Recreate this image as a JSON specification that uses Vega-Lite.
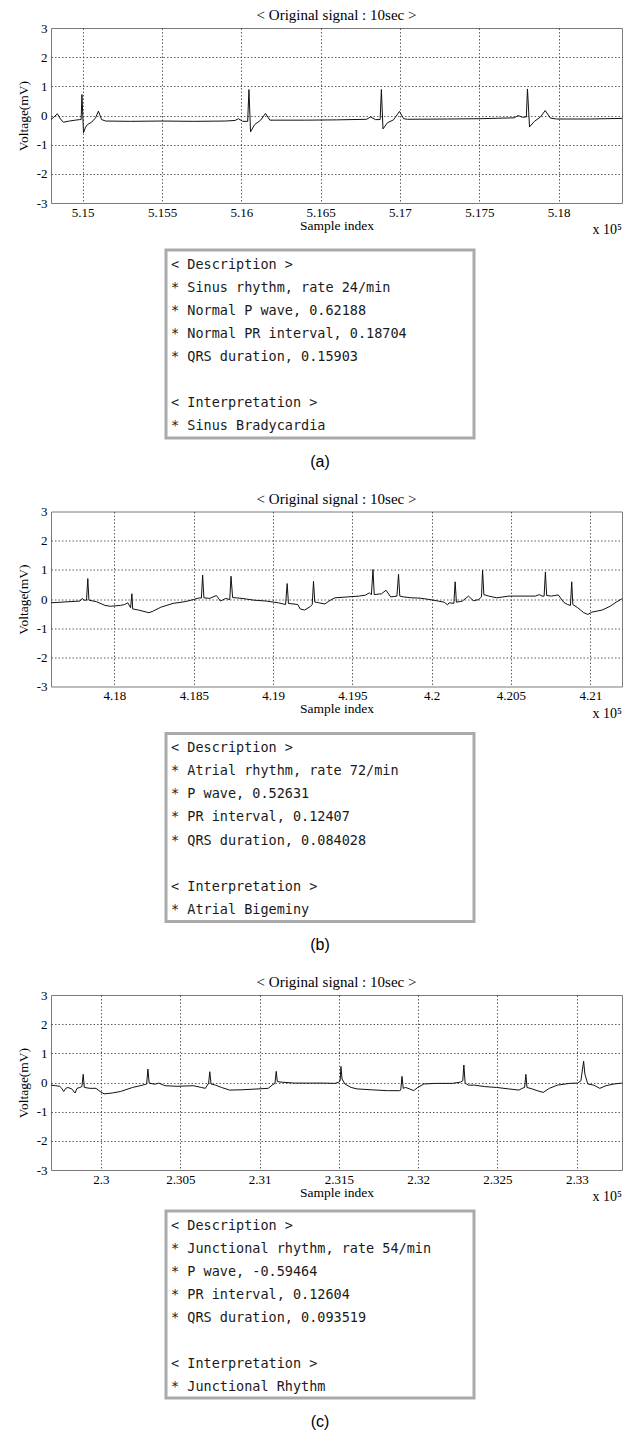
{
  "$schema": "https://vega.github.io/schema/vega-lite/v6.json",
  "background": "white",
  "padding": {"left": 15, "top": 7, "right": 4, "bottom": 3},
  "config": {
    "title": {"font": "Liberation Serif", "fontSize": 15, "fontWeight": "normal", "color": "#000", "offset": -1},
    "axis": {"labelFont": "Liberation Serif", "labelFontSize": 13, "labelColor": "#000", "titleFont": "Liberation Serif", "titleFontSize": 13.5, "titleFontWeight": "normal", "titleColor": "#000", "domain": false, "ticks": false, "gridColor": "#333", "gridDash": [1.5, 2], "gridWidth": 0.8, "gridOpacity": 1, "labelFlush": false, "labelOverlap": false, "tickCount": 20},
    "axisX": {"labelPadding": 3, "titlePadding": -1},
    "axisY": {"labelPadding": 4, "titlePadding": 6}
  },
  "datasets": {
    "ecgA": [
      {"sample": 514800, "mV": -0.14}, {"sample": 514825, "mV": -0.02}, {"sample": 514840, "mV": 0.06}, {"sample": 514860, "mV": -0.12}, {"sample": 514878, "mV": -0.23},
      {"sample": 514916, "mV": -0.19}, {"sample": 514954, "mV": -0.16}, {"sample": 514980, "mV": -0.14}, {"sample": 514990, "mV": -0.14},
      {"sample": 514995, "mV": 0.72}, {"sample": 515005, "mV": -0.59}, {"sample": 515018, "mV": -0.4}, {"sample": 515030, "mV": -0.31},
      {"sample": 515056, "mV": -0.23}, {"sample": 515081, "mV": -0.08}, {"sample": 515099, "mV": 0.15}, {"sample": 515119, "mV": -0.14},
      {"sample": 515145, "mV": -0.19}, {"sample": 515300, "mV": -0.2}, {"sample": 515500, "mV": -0.19}, {"sample": 515700, "mV": -0.2},
      {"sample": 515900, "mV": -0.19}, {"sample": 515960, "mV": -0.17}, {"sample": 515982, "mV": -0.11}, {"sample": 516008, "mV": -0.2},
      {"sample": 516040, "mV": -0.2}, {"sample": 516048, "mV": 0.89}, {"sample": 516058, "mV": -0.56}, {"sample": 516084, "mV": -0.31},
      {"sample": 516122, "mV": -0.16}, {"sample": 516152, "mV": 0.07}, {"sample": 516180, "mV": -0.16}, {"sample": 516400, "mV": -0.16},
      {"sample": 516600, "mV": -0.15}, {"sample": 516790, "mV": -0.13}, {"sample": 516815, "mV": -0.05}, {"sample": 516845, "mV": -0.14},
      {"sample": 516875, "mV": -0.14}, {"sample": 516883, "mV": 0.89}, {"sample": 516893, "mV": -0.46}, {"sample": 516921, "mV": -0.25},
      {"sample": 516959, "mV": -0.15}, {"sample": 516997, "mV": 0.14}, {"sample": 517023, "mV": -0.11}, {"sample": 517048, "mV": -0.13},
      {"sample": 517300, "mV": -0.12}, {"sample": 517500, "mV": -0.11}, {"sample": 517720, "mV": -0.08}, {"sample": 517746, "mV": 0.0},
      {"sample": 517771, "mV": -0.06}, {"sample": 517797, "mV": -0.05}, {"sample": 517804, "mV": 0.91}, {"sample": 517817, "mV": -0.39},
      {"sample": 517848, "mV": -0.2}, {"sample": 517886, "mV": -0.05}, {"sample": 517916, "mV": 0.17}, {"sample": 517949, "mV": -0.09},
      {"sample": 517987, "mV": -0.12}, {"sample": 518200, "mV": -0.12}, {"sample": 518400, "mV": -0.1}
    ],
    "ecgB": [
      {"sample": 417600, "mV": -0.13}, {"sample": 417783, "mV": -0.07}, {"sample": 417796, "mV": 0.02}, {"sample": 417809, "mV": -0.04},
      {"sample": 417824, "mV": -0.04}, {"sample": 417832, "mV": 0.7}, {"sample": 417839, "mV": -0.04}, {"sample": 417885, "mV": -0.09},
      {"sample": 417941, "mV": -0.22}, {"sample": 417974, "mV": -0.25}, {"sample": 418038, "mV": -0.22}, {"sample": 418064, "mV": -0.19},
      {"sample": 418084, "mV": -0.13}, {"sample": 418102, "mV": -0.3}, {"sample": 418110, "mV": 0.18}, {"sample": 418115, "mV": -0.34},
      {"sample": 418153, "mV": -0.38}, {"sample": 418217, "mV": -0.47}, {"sample": 418242, "mV": -0.42}, {"sample": 418293, "mV": -0.28},
      {"sample": 418370, "mV": -0.15}, {"sample": 418446, "mV": -0.09}, {"sample": 418497, "mV": -0.02}, {"sample": 418536, "mV": 0.04},
      {"sample": 418548, "mV": 0.03}, {"sample": 418556, "mV": 0.82}, {"sample": 418564, "mV": 0.04}, {"sample": 418600, "mV": 0.02},
      {"sample": 418643, "mV": 0.12}, {"sample": 418668, "mV": -0.07}, {"sample": 418702, "mV": 0.02}, {"sample": 418727, "mV": -0.02},
      {"sample": 418735, "mV": 0.78}, {"sample": 418745, "mV": 0.05}, {"sample": 418804, "mV": 0.02}, {"sample": 418880, "mV": -0.04},
      {"sample": 418957, "mV": -0.07}, {"sample": 419033, "mV": -0.13}, {"sample": 419079, "mV": -0.19}, {"sample": 419089, "mV": 0.53},
      {"sample": 419097, "mV": -0.15}, {"sample": 419156, "mV": -0.19}, {"sample": 419171, "mV": -0.34}, {"sample": 419199, "mV": -0.38},
      {"sample": 419237, "mV": -0.25}, {"sample": 419247, "mV": -0.19}, {"sample": 419255, "mV": 0.61}, {"sample": 419263, "mV": -0.1},
      {"sample": 419288, "mV": -0.13}, {"sample": 419327, "mV": -0.17}, {"sample": 419352, "mV": -0.07}, {"sample": 419390, "mV": 0.04},
      {"sample": 419467, "mV": 0.07}, {"sample": 419543, "mV": 0.1}, {"sample": 419582, "mV": 0.13}, {"sample": 419607, "mV": 0.21},
      {"sample": 419620, "mV": 0.15}, {"sample": 419630, "mV": 1.01}, {"sample": 419638, "mV": 0.15}, {"sample": 419684, "mV": 0.18},
      {"sample": 419712, "mV": 0.3}, {"sample": 419742, "mV": 0.07}, {"sample": 419781, "mV": 0.1}, {"sample": 419791, "mV": 0.85},
      {"sample": 419799, "mV": 0.1}, {"sample": 419824, "mV": 0.07}, {"sample": 419875, "mV": 0.04}, {"sample": 419926, "mV": 0.03},
      {"sample": 419990, "mV": -0.02}, {"sample": 420041, "mV": -0.07}, {"sample": 420079, "mV": -0.11}, {"sample": 420100, "mV": -0.2},
      {"sample": 420110, "mV": -0.13}, {"sample": 420140, "mV": -0.15}, {"sample": 420148, "mV": 0.59}, {"sample": 420156, "mV": -0.11},
      {"sample": 420194, "mV": -0.07}, {"sample": 420232, "mV": 0.1}, {"sample": 420263, "mV": -0.06}, {"sample": 420296, "mV": -0.02},
      {"sample": 420314, "mV": 0.07}, {"sample": 420321, "mV": 0.99}, {"sample": 420329, "mV": 0.15}, {"sample": 420360, "mV": 0.1},
      {"sample": 420411, "mV": 0.04}, {"sample": 420487, "mV": 0.1}, {"sample": 420589, "mV": 0.1}, {"sample": 420653, "mV": 0.1},
      {"sample": 420679, "mV": 0.15}, {"sample": 420696, "mV": 0.1}, {"sample": 420709, "mV": 0.1}, {"sample": 420717, "mV": 0.93},
      {"sample": 420725, "mV": 0.12}, {"sample": 420755, "mV": 0.1}, {"sample": 420798, "mV": 0.14}, {"sample": 420832, "mV": -0.11},
      {"sample": 420857, "mV": -0.19}, {"sample": 420875, "mV": -0.22}, {"sample": 420883, "mV": 0.59}, {"sample": 420890, "mV": -0.19},
      {"sample": 420921, "mV": -0.3}, {"sample": 420959, "mV": -0.47}, {"sample": 420985, "mV": -0.53}, {"sample": 421010, "mV": -0.45},
      {"sample": 421074, "mV": -0.38}, {"sample": 421125, "mV": -0.25}, {"sample": 421163, "mV": -0.11}, {"sample": 421200, "mV": 0.01}
    ],
    "ecgC": [
      {"sample": 229685, "mV": -0.09}, {"sample": 229714, "mV": -0.11}, {"sample": 229740, "mV": -0.13}, {"sample": 229753, "mV": -0.2},
      {"sample": 229765, "mV": -0.31}, {"sample": 229778, "mV": -0.2}, {"sample": 229791, "mV": -0.17}, {"sample": 229816, "mV": -0.22},
      {"sample": 229837, "mV": -0.36}, {"sample": 229849, "mV": -0.2}, {"sample": 229867, "mV": -0.17}, {"sample": 229880, "mV": -0.14},
      {"sample": 229888, "mV": 0.28}, {"sample": 229895, "mV": -0.17}, {"sample": 229931, "mV": -0.2}, {"sample": 229969, "mV": -0.2},
      {"sample": 229995, "mV": -0.31}, {"sample": 230020, "mV": -0.39}, {"sample": 230071, "mV": -0.36}, {"sample": 230122, "mV": -0.31},
      {"sample": 230199, "mV": -0.17}, {"sample": 230263, "mV": -0.09}, {"sample": 230288, "mV": -0.05}, {"sample": 230296, "mV": 0.46},
      {"sample": 230304, "mV": -0.02}, {"sample": 230339, "mV": -0.06}, {"sample": 230365, "mV": -0.02}, {"sample": 230403, "mV": -0.11},
      {"sample": 230480, "mV": -0.13}, {"sample": 230582, "mV": -0.11}, {"sample": 230633, "mV": -0.17}, {"sample": 230658, "mV": -0.2},
      {"sample": 230679, "mV": -0.02}, {"sample": 230686, "mV": 0.37}, {"sample": 230694, "mV": -0.05}, {"sample": 230722, "mV": -0.09},
      {"sample": 230760, "mV": -0.17}, {"sample": 230811, "mV": -0.26}, {"sample": 230888, "mV": -0.25}, {"sample": 230990, "mV": -0.22},
      {"sample": 231054, "mV": -0.2}, {"sample": 231079, "mV": -0.09}, {"sample": 231097, "mV": -0.03}, {"sample": 231105, "mV": 0.38},
      {"sample": 231112, "mV": 0.03}, {"sample": 231143, "mV": 0.01}, {"sample": 231219, "mV": -0.02}, {"sample": 231321, "mV": -0.02},
      {"sample": 231398, "mV": -0.02}, {"sample": 231475, "mV": -0.03}, {"sample": 231500, "mV": 0.01}, {"sample": 231508, "mV": 0.06},
      {"sample": 231513, "mV": 0.55}, {"sample": 231520, "mV": 0.12}, {"sample": 231538, "mV": -0.05}, {"sample": 231577, "mV": -0.17},
      {"sample": 231615, "mV": -0.22}, {"sample": 231704, "mV": -0.25}, {"sample": 231806, "mV": -0.28}, {"sample": 231883, "mV": -0.28},
      {"sample": 231890, "mV": -0.26}, {"sample": 231898, "mV": 0.21}, {"sample": 231906, "mV": -0.2}, {"sample": 231921, "mV": -0.17},
      {"sample": 231946, "mV": -0.22}, {"sample": 231972, "mV": -0.28}, {"sample": 231997, "mV": -0.17}, {"sample": 232036, "mV": -0.05},
      {"sample": 232112, "mV": -0.03}, {"sample": 232214, "mV": -0.03}, {"sample": 232265, "mV": 0.01}, {"sample": 232281, "mV": 0.06},
      {"sample": 232288, "mV": 0.6}, {"sample": 232296, "mV": -0.02}, {"sample": 232316, "mV": -0.09}, {"sample": 232355, "mV": -0.09},
      {"sample": 232418, "mV": -0.14}, {"sample": 232495, "mV": -0.17}, {"sample": 232571, "mV": -0.22}, {"sample": 232635, "mV": -0.26},
      {"sample": 232656, "mV": -0.2}, {"sample": 232671, "mV": -0.17}, {"sample": 232679, "mV": 0.28}, {"sample": 232686, "mV": -0.17},
      {"sample": 232719, "mV": -0.22}, {"sample": 232750, "mV": -0.28}, {"sample": 232788, "mV": -0.34}, {"sample": 232827, "mV": -0.2},
      {"sample": 232878, "mV": -0.09}, {"sample": 232954, "mV": -0.03}, {"sample": 233005, "mV": -0.02}, {"sample": 233026, "mV": 0.06},
      {"sample": 233036, "mV": 0.46}, {"sample": 233043, "mV": 0.73}, {"sample": 233051, "mV": 0.29}, {"sample": 233069, "mV": -0.05},
      {"sample": 233107, "mV": -0.09}, {"sample": 233145, "mV": -0.2}, {"sample": 233184, "mV": -0.11}, {"sample": 233235, "mV": -0.05},
      {"sample": 233285, "mV": -0.02}
    ],
    "descA": [
      {"line": 0, "text": "< Description >"}, {"line": 1, "text": "* Sinus rhythm, rate 24/min"}, {"line": 2, "text": "* Normal P wave, 0.62188"},
      {"line": 3, "text": "* Normal PR interval, 0.18704"}, {"line": 4, "text": "* QRS duration, 0.15903"},
      {"line": 6, "text": "< Interpretation >"}, {"line": 7, "text": "* Sinus Bradycardia"}
    ],
    "descB": [
      {"line": 0, "text": "< Description >"}, {"line": 1, "text": "* Atrial rhythm, rate 72/min"}, {"line": 2, "text": "* P wave, 0.52631"},
      {"line": 3, "text": "* PR interval, 0.12407"}, {"line": 4, "text": "* QRS duration, 0.084028"},
      {"line": 6, "text": "< Interpretation >"}, {"line": 7, "text": "* Atrial Bigeminy"}
    ],
    "descC": [
      {"line": 0, "text": "< Description >"}, {"line": 1, "text": "* Junctional rhythm, rate 54/min"}, {"line": 2, "text": "* P wave, -0.59464"},
      {"line": 3, "text": "* PR interval, 0.12604"}, {"line": 4, "text": "* QRS duration, 0.093519"},
      {"line": 6, "text": "< Interpretation >"}, {"line": 7, "text": "* Junctional Rhythm"}
    ]
  },
  "vconcat": [
    {
      "spacing": 10,
      "vconcat": [
        {
          "width": 571, "height": 175,
          "view": {"stroke": "#7a7a7a", "strokeWidth": 1},
          "title": {"text": "< Original signal : 10sec >"},
          "layer": [
            {
              "data": {"name": "ecgA"},
              "mark": {"type": "line", "color": "#111", "strokeWidth": 1, "clip": true},
              "encoding": {
                "x": {"field": "sample", "type": "quantitative", "scale": {"domain": [514800, 518400], "nice": false, "zero": false},
                      "axis": {"title": "Sample index", "values": [515000, 515500, 516000, 516500, 517000, 517500, 518000], "labelExpr": "'' + round(datum.value / 10) / 10000"}},
                "y": {"field": "mV", "type": "quantitative", "scale": {"domain": [-3, 3], "nice": false},
                      "axis": {"title": "Voltage(mV)", "values": [-3, -2, -1, 0, 1, 2, 3], "tickCount": 20, "labelExpr": "'' + datum.value", "gridOpacity": {"condition": {"test": "abs(datum.value) == 3", "value": 0}, "value": 1}}}
              }
            },
            {
              "data": {"values": [{"label": "x 10⁵"}]},
              "mark": {"type": "text", "align": "right", "baseline": "middle", "dy": 27, "font": "Liberation Serif", "fontSize": 14, "color": "#000"},
              "encoding": {"x": {"datum": 518400}, "y": {"datum": -3}, "text": {"field": "label"}}
            }
          ]
        },
        {
          "spacing": 0,
          "hconcat": [
            {"width": 113, "height": 10, "view": {"stroke": null}, "data": {"values": []}, "mark": "point"},
            {
              "width": 308, "height": 188,
              "view": {"stroke": "#aaaaaa", "strokeWidth": 3},
              "title": {"text": "(a)", "orient": "bottom", "font": "Liberation Sans", "fontSize": 16, "offset": 15.5},
              "data": {"name": "descA"},
              "mark": {"type": "text", "align": "left", "baseline": "middle", "font": "DejaVu Sans Mono", "fontSize": 13.5, "dx": 5, "color": "#1a1a1a"},
              "encoding": {
                "x": {"datum": 0, "type": "quantitative", "scale": {"domain": [0, 1]}, "axis": null},
                "y": {"field": "line", "type": "quantitative", "scale": {"domain": [-0.65, 7.52], "reverse": true, "nice": false, "zero": false}, "axis": null},
                "text": {"field": "text"}
              }
            }
          ]
        }
      ]
    },
    {
      "spacing": 10,
      "vconcat": [
        {
          "width": 571, "height": 175,
          "view": {"stroke": "#7a7a7a", "strokeWidth": 1},
          "title": {"text": "< Original signal : 10sec >"},
          "layer": [
            {
              "data": {"name": "ecgB"},
              "mark": {"type": "line", "color": "#111", "strokeWidth": 1, "clip": true},
              "encoding": {
                "x": {"field": "sample", "type": "quantitative", "scale": {"domain": [417600, 421200], "nice": false, "zero": false},
                      "axis": {"title": "Sample index", "values": [418000, 418500, 419000, 419500, 420000, 420500, 421000], "labelExpr": "'' + round(datum.value / 10) / 10000"}},
                "y": {"field": "mV", "type": "quantitative", "scale": {"domain": [-3, 3], "nice": false},
                      "axis": {"title": "Voltage(mV)", "values": [-3, -2, -1, 0, 1, 2, 3], "tickCount": 20, "labelExpr": "'' + datum.value", "gridOpacity": {"condition": {"test": "abs(datum.value) == 3", "value": 0}, "value": 1}}}
              }
            },
            {
              "data": {"values": [{"label": "x 10⁵"}]},
              "mark": {"type": "text", "align": "right", "baseline": "middle", "dy": 27, "font": "Liberation Serif", "fontSize": 14, "color": "#000"},
              "encoding": {"x": {"datum": 421200}, "y": {"datum": -3}, "text": {"field": "label"}}
            }
          ]
        },
        {
          "spacing": 0,
          "hconcat": [
            {"width": 113, "height": 10, "view": {"stroke": null}, "data": {"values": []}, "mark": "point"},
            {
              "width": 308, "height": 188,
              "view": {"stroke": "#aaaaaa", "strokeWidth": 3},
              "title": {"text": "(b)", "orient": "bottom", "font": "Liberation Sans", "fontSize": 16, "offset": 15.5},
              "data": {"name": "descB"},
              "mark": {"type": "text", "align": "left", "baseline": "middle", "font": "DejaVu Sans Mono", "fontSize": 13.5, "dx": 5, "color": "#1a1a1a"},
              "encoding": {
                "x": {"datum": 0, "type": "quantitative", "scale": {"domain": [0, 1]}, "axis": null},
                "y": {"field": "line", "type": "quantitative", "scale": {"domain": [-0.65, 7.52], "reverse": true, "nice": false, "zero": false}, "axis": null},
                "text": {"field": "text"}
              }
            }
          ]
        }
      ]
    },
    {
      "spacing": 4,
      "vconcat": [
        {
          "width": 571, "height": 175,
          "view": {"stroke": "#7a7a7a", "strokeWidth": 1},
          "title": {"text": "< Original signal : 10sec >"},
          "layer": [
            {
              "data": {"name": "ecgC"},
              "mark": {"type": "line", "color": "#111", "strokeWidth": 1, "clip": true},
              "encoding": {
                "x": {"field": "sample", "type": "quantitative", "scale": {"domain": [229685, 233285], "nice": false, "zero": false},
                      "axis": {"title": "Sample index", "values": [230000, 230500, 231000, 231500, 232000, 232500, 233000], "labelExpr": "'' + round(datum.value / 10) / 10000"}},
                "y": {"field": "mV", "type": "quantitative", "scale": {"domain": [-3, 3], "nice": false},
                      "axis": {"title": "Voltage(mV)", "values": [-3, -2, -1, 0, 1, 2, 3], "tickCount": 20, "labelExpr": "'' + datum.value", "gridOpacity": {"condition": {"test": "abs(datum.value) == 3", "value": 0}, "value": 1}}}
              }
            },
            {
              "data": {"values": [{"label": "x 10⁵"}]},
              "mark": {"type": "text", "align": "right", "baseline": "middle", "dy": 27, "font": "Liberation Serif", "fontSize": 14, "color": "#000"},
              "encoding": {"x": {"datum": 233285}, "y": {"datum": -3}, "text": {"field": "label"}}
            }
          ]
        },
        {
          "spacing": 0,
          "hconcat": [
            {"width": 113, "height": 10, "view": {"stroke": null}, "data": {"values": []}, "mark": "point"},
            {
              "width": 308, "height": 187,
              "view": {"stroke": "#aaaaaa", "strokeWidth": 3},
              "title": {"text": "(c)", "orient": "bottom", "font": "Liberation Sans", "fontSize": 16, "offset": 15.5},
              "data": {"name": "descC"},
              "mark": {"type": "text", "align": "left", "baseline": "middle", "font": "DejaVu Sans Mono", "fontSize": 13.5, "dx": 5, "color": "#1a1a1a"},
              "encoding": {
                "x": {"datum": 0, "type": "quantitative", "scale": {"domain": [0, 1]}, "axis": null},
                "y": {"field": "line", "type": "quantitative", "scale": {"domain": [-0.65, 7.48], "reverse": true, "nice": false, "zero": false}, "axis": null},
                "text": {"field": "text"}
              }
            }
          ]
        }
      ]
    }
  ],
  "spacing": 19.5
}
